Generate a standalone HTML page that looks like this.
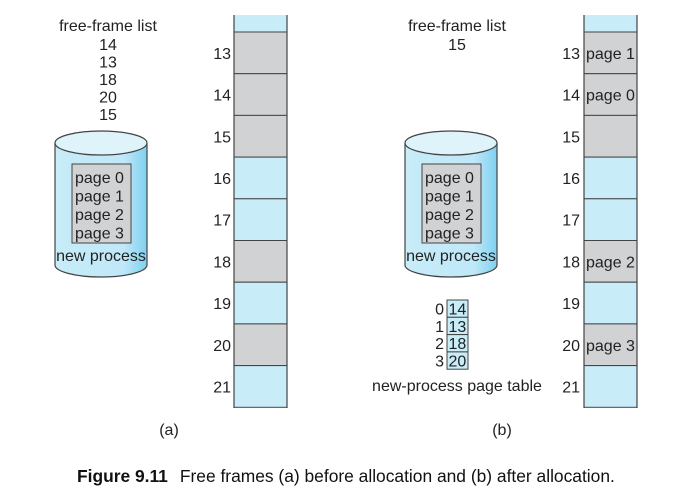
<!DOCTYPE html>
<html><head><meta charset="utf-8"><style>
body{margin:0;background:#fff}
svg{display:block;font-family:"Liberation Sans",Arial,sans-serif}
</style></head><body>
<svg id="s" width="686" height="496" viewBox="0 0 686 496">
<defs>
<linearGradient id="cyl" x1="0" x2="1" y1="0" y2="0">
<stop offset="0" stop-color="#c8ecf8"/><stop offset="0.75" stop-color="#bfe8f8"/><stop offset="1" stop-color="#7fd0f0"/>
</linearGradient>
</defs>
</svg>
<script>
const frameNums=[13,14,15,16,17,18,19,20,21];
const stateBefore=['u','u','u','f','f','u','f','u','f'];
const stateAfter=['u','u','u','f','f','u','f','u','f'];
const labelsAfter=['page 1','page 0','','','','page 2','','page 3',''];
const freeBefore=[14,13,18,20,15];
const freeAfter=[15];
const pageTable=[14,13,18,20];
const NS='http://www.w3.org/2000/svg';
const s=document.getElementById('s');
const FS=16;
function el(t,a,txt){const e=document.createElementNS(NS,t);for(const k in a)e.setAttribute(k,a[k]);if(txt!==undefined)e.textContent=txt;s.appendChild(e);return e;}
const BLUE='#c8ecf8',GRAY='#d1d2d4',LINE='#444';
const top0=32,fh=41.7;
function column(x,states,labels,numX,name){
  let r=el('rect',{x:x,y:15,width:53,height:top0-15,fill:BLUE});
  
  
  states.forEach((st,i)=>{
    const y=top0+i*fh;
    const f=el('rect',{x:x,y:y,width:53,height:fh,fill:st==='u'?GRAY:BLUE,stroke:LINE,'stroke-width':1});
    
    
    const t=el('text',{x:numX,y:y+fh/2+6,'font-size':FS,'text-anchor':'end',fill:'#222'},frameNums[i]);
    
    
    if(labels&&labels[i]){
      const p=el('text',{x:x+2,y:y+fh/2+6,'font-size':FS,fill:'#222'},labels[i]);
      
      
    }
  });
  el('line',{x1:x,y1:15,x2:x,y2:408,stroke:LINE,'stroke-width':1.2});
  el('line',{x1:x+53,y1:15,x2:x+53,y2:408,stroke:LINE,'stroke-width':1.2});
}
column(234,stateBefore,null,231,'memory-before');
column(584,stateAfter,labelsAfter,580,'memory-after');
function freeList(cx,list,name){
  const h=el('text',{x:cx,y:31,'font-size':FS,'text-anchor':'middle',fill:'#222'},'free-frame list');
  
  
  list.forEach((v,i)=>{
    const t=el('text',{x:cx,y:50+i*17.5,'font-size':FS,'text-anchor':'middle',fill:'#222'},v);
    
    
  });
}
freeList(108,freeBefore,'free-list-before');
freeList(457,freeAfter,'free-list-after');
function cylinder(x,name){
  const w=92,cx=x+w/2,ty=143,by=265,ry=12;
  const b=el('path',{d:`M${x},${ty} L${x},${by} A${w/2},${ry} 0 0 0 ${x+w},${by} L${x+w},${ty}`,fill:'url(#cyl)',stroke:LINE,'stroke-width':1.2});
  
  
  el('ellipse',{cx:cx,cy:ty,rx:w/2,ry:ry,fill:'#dff3fb',stroke:LINE,'stroke-width':1.2});
  el('rect',{x:x+17,y:164,width:59,height:79,fill:GRAY,stroke:LINE,'stroke-width':1});
  ['page 0','page 1','page 2','page 3'].forEach((p,i)=>{
    const t=el('text',{x:x+20,y:183+i*18.5,'font-size':FS,fill:'#222'},p);
    
    
  });
  const n=el('text',{x:cx,y:261,'font-size':FS,'text-anchor':'middle',fill:'#222'},'new process');
  
  
}
cylinder(55,'before');
cylinder(405,'after');
pageTable.forEach((v,i)=>{
  const y=300+i*17.3;
  const r=el('rect',{x:447,y:y,width:21,height:17.3,fill:BLUE,stroke:LINE,'stroke-width':1});
  
  
  el('text',{x:448.5,y:y+14.5,'font-size':FS,fill:'#222'},v);
  el('text',{x:444,y:y+14.5,'font-size':FS,'text-anchor':'end',fill:'#222'},i);
});
const pt=el('text',{x:457,y:391,'font-size':FS,'text-anchor':'middle',fill:'#222'},'new-process page table');


const a=el('text',{x:169,y:435,'font-size':FS,'text-anchor':'middle',fill:'#222'},'(a)');


const bb=el('text',{x:502,y:435,'font-size':FS,'text-anchor':'middle',fill:'#222'},'(b)');


const c=el('text',{x:77,y:482,'font-size':17.4,fill:'#111'});


c.innerHTML='<tspan font-weight="bold">Figure 9.11</tspan><tspan dx="12">Free frames (a) before allocation and (b) after allocation.</tspan>';
</script>
</body></html>
